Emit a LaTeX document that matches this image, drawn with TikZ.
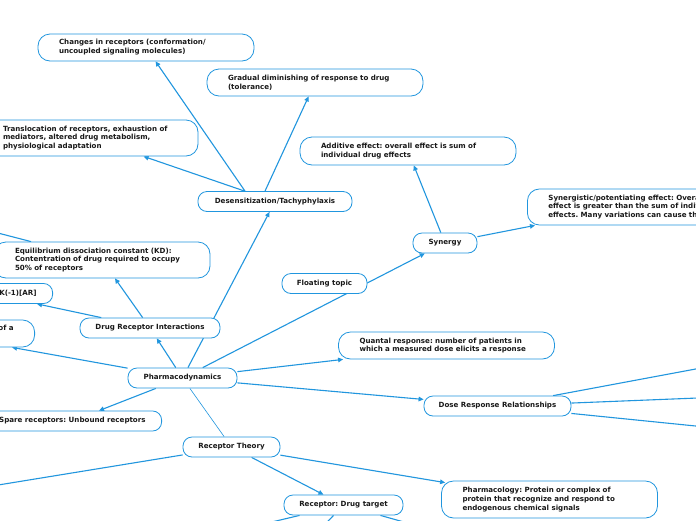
\documentclass[tikz,border=0pt]{standalone}
\usepackage{fontspec}
\setmainfont{DejaVu Sans}
\usetikzlibrary{arrows.meta,calc,backgrounds}
\definecolor{mapblue}{RGB}{33,150,222}
\definecolor{mapink}{RGB}{25,25,25}
\newcommand{\topicfont}{\fontsize{7.1}{8.9}\selectfont\bfseries\frenchspacing}

\begin{document}
\begin{tikzpicture}[
  x=1pt,y=-1pt,
  >={Triangle[length=5pt,width=4.6pt]},
  topic/.style={draw=mapblue,line width=0.8pt,fill=white,rounded corners=9pt,
    font=\topicfont,text=mapink,inner ysep=0pt,inner xsep=6pt,minimum height=20pt,align=center},
  note/.style={topic,rounded corners=12pt,align=left,inner xsep=21pt,text width=174pt,minimum height=#1},
  cut/.style={topic,anchor=east,inner xsep=16pt},
  link/.style={->,mapblue,line width=1.1pt},
  rel/.style={mapblue,line width=0.6pt}
]
\path[use as bounding box] (0,0) rectangle (696,520);
\clip (0,0) rectangle (696,520);

% ---- desensitization branch ----
\node[note=27pt] (changes) at (146,47.5) {Changes in receptors (conformation/\\uncoupled signaling molecules)};
\node[note=27pt] (gradual) at (315,82.5) {Gradual diminishing of response to drug\\(tolerance)};
\node[note=36pt] (transloc) at (90,138) {Translocation of receptors, exhaustion of\\mediators, altered drug metabolism,\\physiological adaptation};
\node[topic,minimum width=154pt] (desens) at (275,201.5) {Desensitization/Tachyphylaxis};

% ---- synergy branch ----
\node[note=28pt] (additive) at (408,151) {Additive effect: overall effect is sum of\\individual drug effects};
\node[note=36pt,anchor=west,text width=200pt] (synergistic) at (527,207) {Synergistic/potentiating effect: Overall\\effect is greater than the sum of individual\\effects. Many variations can cause this};
\node[topic,minimum width=64pt] (synergy) at (445,243) {Synergy};
\node[topic,minimum width=85pt,inner xsep=3pt] (floating) at (324.5,283.5) {Floating topic};

% ---- drug receptor interactions ----
\node[note=36pt] (equil) at (102,260) {Equilibrium dissociation constant (KD):\\Contentration of drug required to occupy\\50\% of receptors};
\node[cut] (kar) at (53,293.5) {K1[A][R] = K(-1)[AR]};
\node[cut,align=left,inner xsep=21pt,minimum height=27pt,rounded corners=12pt] (efficacy) at (35,333.5) {Efficacy: maximal effect of a\\drug};
\node[topic,minimum width=140pt] (dri) at (150,328) {Drug Receptor Interactions};

% ---- centre and lower topics ----
\node[note=27pt] (quantal) at (446.5,345.5) {Quantal response: number of patients in\\which a measured dose elicits a response};
\node[topic,minimum width=109pt] (pd) at (182.5,378) {Pharmacodynamics};
\node[topic,minimum width=147pt] (dose) at (497.5,406) {Dose Response Relationships};
\node[cut] (spare) at (162,421) {Spare receptors: Unbound receptors};
\node[topic,minimum width=97pt] (rtheory) at (231.5,447) {Receptor Theory};
\node[topic,minimum width=119pt] (rdrug) at (343.5,505) {Receptor: Drug target};
\node[note=37pt] (pharmacology) at (549.5,499.5) {Pharmacology: Protein or complex of\\protein that recognize and respond to\\endogenous chemical signals};

% free ends of branches running off the page
\coordinate (eqOut) at (-60,218);
\coordinate (rtOut) at (-100,501);
\coordinate (doseA) at (760,357);
\coordinate (doseB) at (760,395.5);
\coordinate (doseC) at (760,432.5);
\coordinate (rdA) at (200,539);
\coordinate (rdB) at (310,540);
\coordinate (rdC) at (450,535);

% ---- connectors ----
\begin{scope}[on background layer]
\fill[white] (0,0) rectangle (696,520);
\draw[link] (pd) -- (desens);
\draw[link] (pd) -- (dri);
\draw[link] (pd) -- ($(efficacy.south east)+(-23,0)$);
\draw[link] (pd) -- (synergy);
\draw[link] (pd) -- ($(quantal.south west)+(5,0)$);
\draw[link] (pd) -- (dose);
\draw[link] (pd) -- (spare);
\draw[rel] (pd) -- (rtheory);
\draw[link] ($(desens.north)+(-30,0)$) -- (changes);
\draw[link] ($(desens.north)+(-10,0)$) -- (gradual);
\draw[link] (desens) -- (transloc);
\draw[link] (dri) -- (equil);
\draw[link] (dri) -- ($(kar.south east)+(-16,0)$);
\draw[link] (synergy) -- (additive);
\draw[link] (synergy) -- ($(synergistic.south west)+(8,0)$);
\draw[link] (equil) -- (eqOut);
\draw[link] (rtheory) -- (rdrug);
\draw[link] (rtheory) -- ($(pharmacology.north west)+(4,2)$);
\draw[link] (rtheory) -- (rtOut);
\draw[link] (dose) -- (doseA);
\draw[link] (dose) -- (doseB);
\draw[link] (dose) -- (doseC);
\draw[link] (rdrug) -- (rdA);
\draw[link] (rdrug) -- (rdB);
\draw[link] (rdrug) -- (rdC);
\end{scope}

\end{tikzpicture}
\end{document}
